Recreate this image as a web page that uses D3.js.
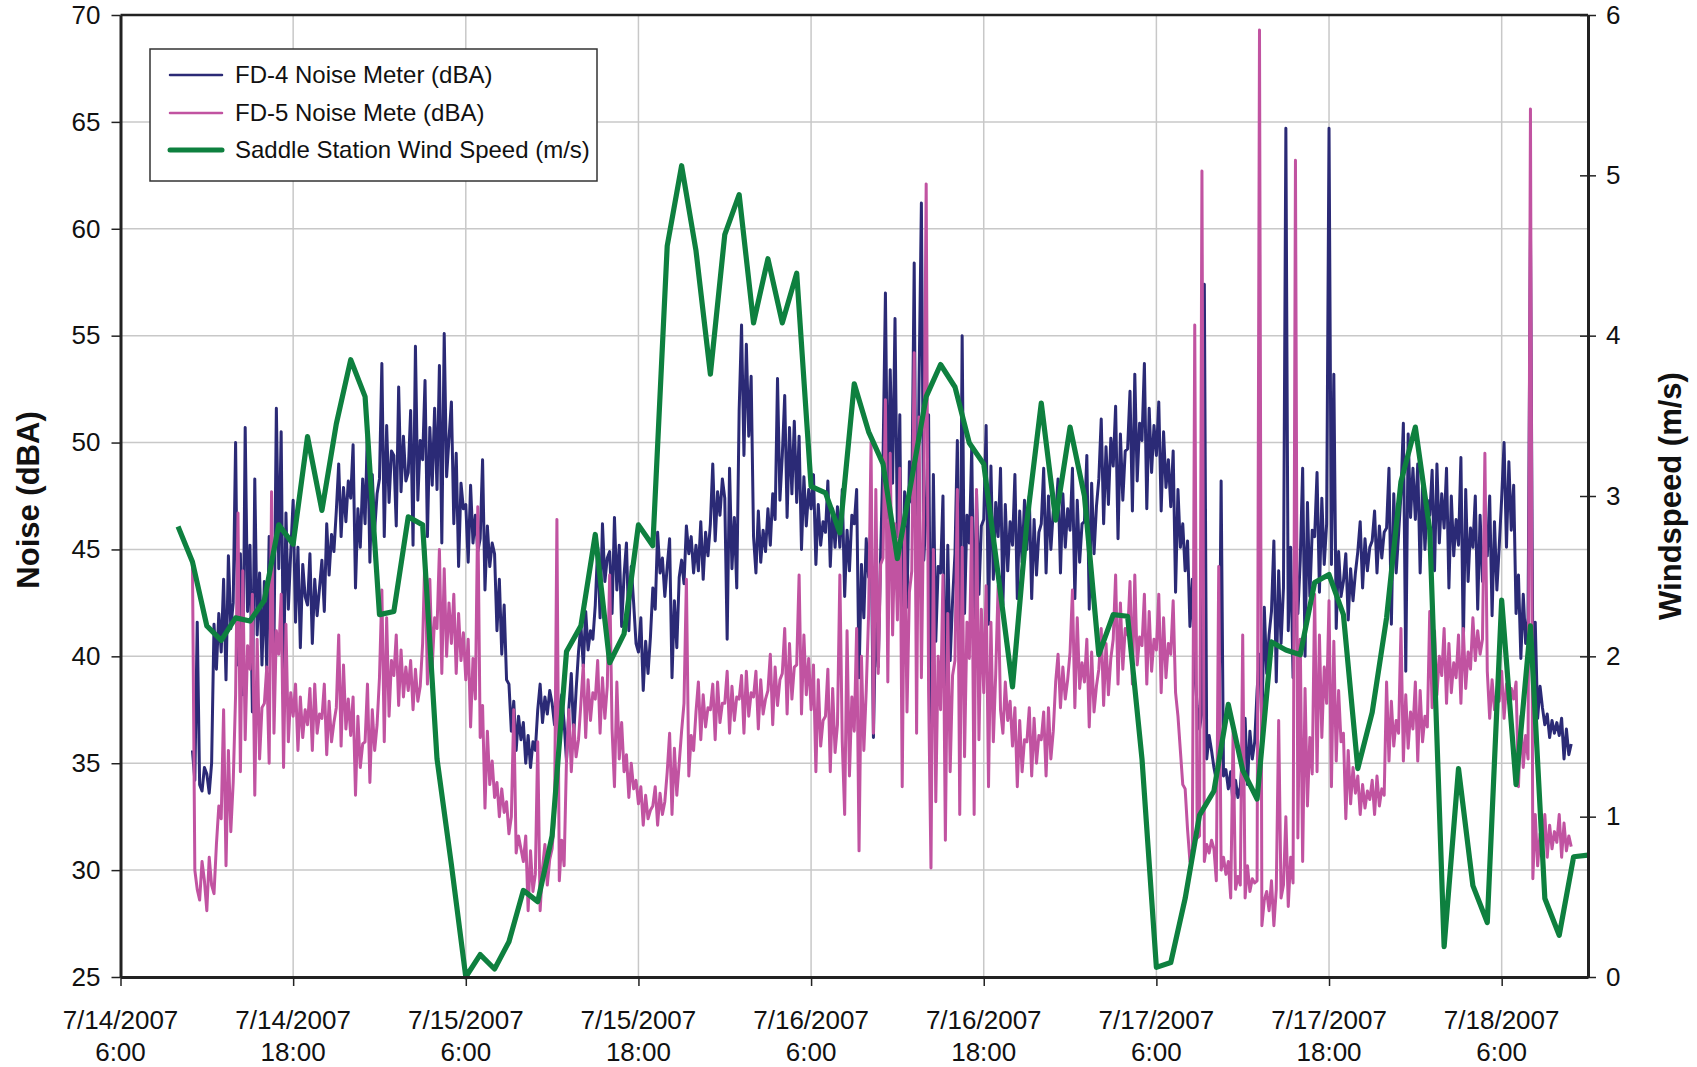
<!DOCTYPE html>
<html>
<head>
<meta charset="utf-8">
<script src="https://cdn.jsdelivr.net/npm/d3@7"></script>
<style>
  html, body { margin: 0; padding: 0; background: #fff; }
  svg { display: block; font-family: "Liberation Sans", Arial, Helvetica, sans-serif; }
</style>
</head>
<body>
<svg id="chart" width="1697" height="1067"></svg>
<script>
// ---- Series -------------------------------------------------------------
const seriesNames = ["FD-4 Noise Meter (dBA)", "FD-5 Noise Mete (dBA)", "Saddle Station Wind Speed (m/s)"];

// Noise meters: 10-minute readings starting 7/14/2007 11:00 (one row per hour)
const noiseStart = [2007, 6, 14, 11, 0];
const noiseStepMinutes = 10;

const fd4Values = [
  // 7/14 11:00 - 23:50
  35.6, 34.2, 41.6, 34.0, 33.7, 34.8,
  34.5, 33.6, 35.0, 41.5, 39.4, 42.0,
  40.2, 43.6, 38.9, 44.7, 41.3, 42.5,
  50.0, 39.6, 44.8, 38.2, 50.7, 42.1,
  45.2, 37.4, 48.3, 41.0, 43.9, 39.6,
  43.5, 39.4, 45.6, 41.8, 40.5, 51.6,
  44.1, 50.5, 38.8, 46.7, 42.2, 44.9,
  47.3, 41.6, 45.1, 40.4, 44.3, 42.8,
  42.4, 44.8, 40.6, 43.6, 41.9, 43.2,
  44.5, 42.1, 46.2, 43.8, 45.7, 44.9,
  46.8, 49.0, 45.6, 47.9, 46.3, 48.2,
  47.4, 49.9, 43.2, 46.9, 45.1, 48.3,
  46.2, 50.7, 44.4, 48.5, 45.9, 47.6,
  // 7/15
  48.3, 53.7, 45.6, 50.8, 47.2, 49.6,
  49.4, 46.1, 52.6, 47.7, 50.3, 48.2,
  48.6, 51.5, 45.2, 54.5, 47.3, 50.1,
  49.2, 52.9, 45.6, 50.7, 48.0, 51.6,
  47.8, 53.6, 45.3, 55.1, 48.4, 50.2,
  51.9, 46.2, 49.5, 44.2, 48.1, 46.9,
  47.1, 44.4, 48.0, 45.3, 46.6, 44.9,
  45.5, 49.2, 43.1, 46.1, 44.2, 45.3,
  44.8, 41.2, 43.6, 40.1, 42.4, 38.9,
  38.7, 36.5, 37.9, 35.6, 37.2, 36.1,
  36.9, 35.0, 36.3, 34.8, 36.0, 35.6,
  37.5, 38.7, 36.9, 38.1, 37.3, 38.4,
  37.8, 36.8, 38.6, 37.1, 38.2, 36.9,
  35.1, 37.6, 39.2, 36.3, 38.4, 40.2,
  41.5, 39.5, 42.1, 40.3, 41.2, 40.8,
  42.4, 45.1, 41.8, 46.2, 43.5, 44.6,
  44.9, 42.0, 46.5, 43.1, 45.2, 41.4,
  43.8, 45.3, 41.2, 44.2, 42.5, 40.6,
  40.2, 41.8, 38.4, 40.7, 39.2, 40.9,
  43.2, 42.2, 45.8, 43.9, 44.6, 42.8,
  44.2, 45.5, 39.0, 42.6, 40.4, 43.7,
  44.5, 43.4, 46.1, 44.8, 45.6, 43.9,
  45.2, 44.0, 46.3, 43.6, 45.8, 44.7,
  46.2, 49.0, 45.4, 47.7, 46.6, 48.3,
  // 7/16
  47.4, 40.8, 48.8, 44.1, 46.5, 43.2,
  51.5, 55.5, 49.4, 54.6, 50.3, 53.1,
  45.6, 43.9, 46.8, 44.4, 45.9, 44.9,
  46.9, 45.2, 47.6, 46.4, 53.0, 47.3,
  49.4, 52.2, 46.5, 50.7, 47.6, 51.0,
  47.2, 50.3, 45.0, 48.4, 46.1, 47.8,
  46.9, 48.5, 44.3, 47.1, 45.2, 46.3,
  45.8, 48.2, 44.2, 46.9, 45.1, 47.0,
  45.1, 47.8, 42.8, 45.9, 44.0, 46.6,
  46.2, 47.8, 39.0, 44.3, 41.8, 45.5,
  43.7, 46.3, 36.2, 42.1, 39.5, 44.8,
  49.2, 57.0, 46.5, 53.4, 48.1, 55.8,
  45.6, 51.3, 39.0, 47.7, 42.3, 49.1,
  47.2, 58.4, 41.5, 52.6, 61.2, 44.5,
  46.8, 51.3, 36.6, 48.5, 40.7, 44.2,
  43.9, 47.5, 36.5, 45.2, 39.8, 42.6,
  44.8, 50.1, 38.9, 55.0, 42.0, 46.6,
  45.3, 49.8, 40.2, 47.6, 42.9, 46.1,
  46.4, 50.8, 41.5, 48.9, 43.6, 47.2,
  45.6, 48.8, 42.4, 47.1, 44.0, 46.3,
  45.2, 48.5, 42.7, 46.8, 44.4, 47.3,
  45.0, 47.5, 42.7, 46.4, 43.8, 45.8,
  46.2, 48.8, 43.9, 47.5, 45.0, 46.8,
  46.5, 48.3, 43.9, 47.6, 45.1, 46.9,
  // 7/17
  45.9, 48.8, 42.7, 47.3, 44.4, 46.2,
  46.3, 49.4, 42.2, 48.1, 44.8, 47.0,
  48.3, 51.1, 46.2, 49.8, 47.1, 50.2,
  48.9, 51.7, 45.5, 50.4, 47.3, 49.6,
  49.7, 52.4, 46.8, 53.2, 48.2, 50.9,
  50.1, 53.7, 46.9, 51.6, 48.6, 50.8,
  49.4, 51.9, 46.8, 50.5, 47.9, 49.2,
  47.0, 49.6, 43.0, 47.8, 45.1, 46.2,
  44.0, 45.4, 41.4, 43.6, 39.2, 37.7,
  36.6, 37.4, 57.4, 35.2, 36.3, 35.6,
  34.8, 34.2, 35.0, 48.2, 34.4, 34.7,
  33.8, 34.6, 33.0, 34.2, 33.4, 33.9,
  35.4, 37.1, 34.0, 36.5, 35.2, 36.0,
  38.4, 40.1, 36.8, 42.3, 39.2, 41.0,
  42.1, 45.4, 38.8, 44.0, 40.6, 43.2,
  64.7, 41.2, 45.1, 39.0, 43.6, 42.0,
  44.5, 48.8, 40.0, 47.2, 42.8, 45.9,
  45.6, 48.6, 43.0, 47.4, 44.3, 46.2,
  64.7, 44.3, 53.2, 41.3, 44.9, 42.8,
  43.5, 44.8, 41.7, 44.1, 42.6, 43.9,
  44.9, 46.3, 43.2, 45.5, 44.0, 45.1,
  45.4, 46.8, 43.9, 46.1, 44.6, 45.8,
  46.0, 48.8, 41.5, 47.6, 43.9, 45.7,
  47.6, 50.9, 39.3, 50.4, 46.5, 48.8,
  // 7/18 00:00 - 10:50
  46.4, 49.0, 43.9, 48.1, 45.0, 47.3,
  46.6, 48.7, 44.0, 49.0, 45.3, 47.6,
  46.0, 48.8, 43.2, 47.5, 44.7, 46.4,
  45.2, 49.3, 40.4, 47.8, 43.5, 46.0,
  45.1, 47.5, 42.2, 46.6, 43.5, 45.6,
  44.7, 47.5, 41.9, 46.3, 43.1, 45.2,
  47.4, 50.0, 45.1, 49.1, 45.9, 48.0,
  42.0, 43.8, 39.9, 42.9, 40.6, 41.8,
  60.0, 39.5, 41.6, 37.1, 38.6, 37.6,
  36.8, 37.3, 36.2, 37.0, 36.4, 36.9,
  36.3, 37.1, 35.2, 36.6, 35.4, 35.9
];

const fd5Values = [
  // 7/14 11:00 - 23:50
  44.5, 30.0, 29.1, 28.6, 30.4, 29.5,
  28.1, 30.6, 29.3, 28.9, 31.2, 33.0,
  32.4, 37.5, 30.2, 35.6, 31.8, 34.1,
  38.2, 46.7, 34.6, 44.0, 36.1, 40.5,
  39.4, 42.9, 33.5, 40.8, 35.2, 37.6,
  37.8, 39.5, 35.0, 47.7, 36.4, 41.2,
  40.1, 42.9, 34.8, 41.5, 36.0, 38.3,
  37.2, 38.7, 35.6, 38.1, 36.2, 37.5,
  36.8, 38.5, 35.6, 38.7, 36.4, 37.3,
  37.1, 38.7, 35.4, 37.9, 36.0, 36.9,
  37.6, 41.0, 35.8, 39.6, 36.6, 38.0,
  36.3, 38.1, 33.5, 37.2, 34.8, 35.9,
  36.0, 38.7, 34.1, 37.5, 35.6, 36.8,
  // 7/15
  39.0, 43.1, 36.0, 41.8, 37.2, 39.8,
  39.1, 41.0, 37.7, 40.3, 38.1, 39.5,
  38.4, 39.8, 37.5, 39.4, 37.9, 38.6,
  40.6, 45.0, 38.7, 43.6, 39.5, 41.8,
  41.3, 45.0, 39.2, 44.1, 40.0, 42.5,
  40.6, 42.9, 39.2, 42.0, 39.8, 41.1,
  38.9, 40.8, 36.7, 39.9, 38.0, 47.0,
  36.2, 37.7, 32.9, 36.5, 34.0, 35.1,
  33.4, 34.1, 32.5, 33.8, 32.7, 33.2,
  31.7, 32.5, 37.5, 30.8, 31.6, 31.0,
  30.4, 31.6, 28.1, 30.9, 29.0, 29.8,
  36.0, 28.1, 30.1, 31.2, 29.3, 30.5,
  31.0, 32.5, 46.4, 29.5, 31.4, 30.2,
  35.2, 37.5, 34.6, 36.8, 35.3, 36.1,
  37.8, 39.6, 36.2, 38.9, 37.0, 38.3,
  38.0, 39.8, 36.4, 39.0, 37.1, 38.6,
  43.8, 36.6, 33.9, 38.8, 35.2, 36.9,
  34.6, 35.4, 33.4, 35.0, 33.8, 34.2,
  33.1, 33.9, 32.1, 33.5, 32.4, 32.8,
  33.0, 33.9, 32.1, 33.6, 32.6, 33.2,
  34.6, 36.4, 32.6, 35.7, 33.5, 35.0,
  36.5, 37.8, 43.6, 34.4, 36.3, 35.6,
  37.4, 38.8, 36.1, 38.2, 36.7, 37.6,
  37.5, 38.7, 36.1, 38.8, 36.9, 37.8,
  // 7/16
  37.8, 39.3, 36.4, 38.6, 37.0, 38.1,
  38.0, 39.1, 36.4, 39.3, 37.2, 38.3,
  38.1, 39.3, 36.6, 38.9, 37.3, 38.0,
  38.4, 40.1, 36.8, 39.5, 37.7, 38.9,
  39.2, 41.3, 37.3, 40.6, 38.0, 39.5,
  39.6, 43.8, 37.3, 41.0, 38.2, 39.9,
  37.5, 39.6, 34.6, 38.9, 35.8, 37.0,
  37.2, 39.4, 34.6, 38.5, 35.5, 36.8,
  43.8, 36.0, 32.6, 41.2, 34.4, 38.1,
  36.5, 41.3, 30.9, 40.0, 35.6, 38.4,
  42.0, 50.0, 36.4, 47.8, 39.2, 44.3,
  44.6, 52.0, 38.8, 49.5, 41.0, 46.2,
  41.7, 48.8, 33.9, 46.0, 37.4, 43.0,
  44.0, 54.2, 36.4, 51.2, 39.0, 47.5,
  62.1, 38.4, 30.1, 45.0, 33.2, 40.0,
  37.5, 43.8, 31.4, 42.0, 34.6, 39.1,
  39.8, 47.8, 32.6, 45.1, 35.3, 41.6,
  39.9, 46.5, 32.6, 47.8, 36.1, 42.2,
  38.3, 43.3, 33.9, 41.6, 36.0, 39.2,
  43.3, 37.5, 36.4, 38.8, 37.0, 37.9,
  35.8, 37.6, 33.9, 37.0, 34.6, 36.1,
  36.0, 37.6, 34.4, 37.1, 35.0, 36.3,
  36.1, 37.4, 34.4, 37.6, 35.2, 36.5,
  38.8, 40.1, 37.6, 39.5, 38.0, 38.9,
  // 7/17
  40.2, 43.1, 37.6, 41.8, 38.5, 39.7,
  38.8, 40.8, 36.7, 40.2, 37.4, 38.6,
  39.4, 41.3, 37.7, 40.6, 38.2, 39.9,
  40.8, 43.8, 38.7, 42.5, 39.4, 41.3,
  41.0, 43.5, 38.7, 43.8, 39.6, 40.9,
  40.5, 42.9, 38.7, 42.1, 39.3, 40.8,
  40.3, 42.9, 38.3, 41.8, 39.0, 40.6,
  40.1, 42.6, 38.3, 37.2, 35.6, 34.0,
  33.8, 31.9, 30.4, 31.0, 55.5, 31.5,
  31.6, 62.7, 30.4, 31.2, 30.8, 31.4,
  31.0, 29.5, 44.2, 30.0, 30.6, 29.8,
  30.4, 28.7, 36.5, 29.1, 29.7, 29.3,
  41.0, 28.7, 30.2, 29.0, 29.6, 29.4,
  29.5, 69.3, 27.4, 28.6, 29.0, 28.1,
  29.5, 27.4, 29.1, 37.0, 28.7, 29.3,
  32.5, 28.3, 30.6, 29.4, 63.2, 31.5,
  40.8, 30.4, 38.5, 33.0, 36.2, 34.5,
  42.9, 34.6, 41.0, 36.2, 39.5, 37.8,
  42.6, 33.9, 40.7, 35.1, 38.4, 36.0,
  36.4, 32.4, 35.6, 33.1, 34.8, 33.6,
  34.4, 32.6, 34.0, 32.9, 33.7, 33.3,
  34.2, 32.6, 34.4, 33.0, 33.8, 33.5,
  38.8, 35.1, 37.9, 35.8, 37.0, 36.4,
  41.3, 35.1, 38.2, 35.7, 37.4, 36.6,
  // 7/18 00:00 - 10:50
  38.8, 35.1, 38.4, 36.0, 37.2, 36.7,
  42.1, 37.6, 41.2, 38.2, 40.0, 39.1,
  41.3, 37.8, 40.6, 38.3, 39.7, 39.0,
  41.0, 37.8, 41.3, 38.5, 40.2, 39.4,
  41.8, 39.8, 41.2, 40.1, 40.8, 49.5,
  39.3, 37.1, 38.9, 37.5, 38.3, 37.9,
  39.3, 37.1, 38.7, 37.8, 38.5, 38.0,
  38.8, 33.9, 37.2, 34.8, 36.3, 35.2,
  65.6, 29.6, 32.6, 30.2, 31.7, 30.8,
  32.6, 30.6, 32.1, 31.0, 31.8, 31.3,
  32.6, 30.6, 32.2, 30.9, 31.6, 31.1
];

// Saddle station: hourly wind speed starting 7/14/2007 10:00
const windStart = [2007, 6, 14, 10, 0];
const windStepMinutes = 60;
const windValues = [
  // 7/14 10:00 - 23:00
  2.81, 2.59, 2.19, 2.10, 2.24, 2.22, 2.35, 2.82, 2.70, 3.37, 2.91, 3.45, 3.85, 3.62,
  // 7/15
  2.26, 2.28, 2.87, 2.82, 1.36, 0.70, 0.00, 0.14, 0.05, 0.22, 0.54, 0.47,
  0.88, 2.03, 2.19, 2.76, 1.96, 2.14, 2.82, 2.69, 4.56, 5.06, 4.53, 3.76,
  // 7/16
  4.63, 4.88, 4.08, 4.48, 4.08, 4.39, 3.06, 3.02, 2.77, 3.70, 3.40, 3.20,
  2.61, 3.11, 3.62, 3.82, 3.68, 3.33, 3.20, 2.51, 1.81, 2.84, 3.58, 2.85,
  // 7/17
  3.43, 3.00, 2.01, 2.26, 2.25, 1.36, 0.06, 0.09, 0.49, 1.01, 1.16, 1.70,
  1.29, 1.11, 2.09, 2.04, 2.01, 2.46, 2.51, 2.26, 1.30, 1.65, 2.24, 3.09,
  // 7/18 00:00 - 12:00
  3.43, 2.79, 0.19, 1.30, 0.57, 0.34, 2.35, 1.20, 2.19, 0.49, 0.26, 0.75, 0.76
];

// ---- Axes ticks -----------------------------------------------------------
const noiseTicks = [25, 30, 35, 40, 45, 50, 55, 60, 65, 70];
const windTicks = [0, 1, 2, 3, 4, 5, 6];
const timeTicks = [
  [2007, 6, 14, 6], [2007, 6, 14, 18], [2007, 6, 15, 6], [2007, 6, 15, 18],
  [2007, 6, 16, 6], [2007, 6, 16, 18], [2007, 6, 17, 6], [2007, 6, 17, 18], [2007, 6, 18, 6]
];
const timeTickLabels = [
  ["7/14/2007", "6:00"], ["7/14/2007", "18:00"], ["7/15/2007", "6:00"], ["7/15/2007", "18:00"],
  ["7/16/2007", "6:00"], ["7/16/2007", "18:00"], ["7/17/2007", "6:00"], ["7/17/2007", "18:00"], ["7/18/2007", "6:00"]
];

// ---- Build point lists ----------------------------------------------------
function toSeries(start, stepMinutes, values) {
  return values.map((v, i) => ({
    t: new Date(start[0], start[1], start[2], start[3], start[4] + i * stepMinutes),
    v: v
  }));
}
const fd4 = toSeries(noiseStart, noiseStepMinutes, fd4Values);
const fd5 = toSeries(noiseStart, noiseStepMinutes, fd5Values);
const wind = toSeries(windStart, windStepMinutes, windValues);
const tickDates = timeTicks.map(d => new Date(d[0], d[1], d[2], d[3]));

// ---- Layout -----------------------------------------------------------------
const plot = { left: 120.5, right: 1588, top: 15, bottom: 977 };
const colors = { fd4: "#2b2a76", fd5: "#c153a1", wind: "#0e803f", grid: "#c8c8c8", axis: "#222" };

const svg = d3.select("#chart");

const x = d3.scaleTime()
  .domain([new Date(2007, 6, 14, 6), new Date(2007, 6, 18, 12)])
  .range([plot.left, plot.right]);
const yNoise = d3.scaleLinear().domain([25, 70]).range([plot.bottom, plot.top]);
const yWind = d3.scaleLinear().domain([0, 6]).range([plot.bottom, plot.top]);

// gridlines
const grid = svg.append("g").attr("stroke", colors.grid).attr("stroke-width", 1.5);
grid.selectAll("line.h").data(noiseTicks.slice(1, -1)).join("line")
  .attr("x1", plot.left).attr("x2", plot.right)
  .attr("y1", d => yNoise(d)).attr("y2", d => yNoise(d));
grid.selectAll("line.v").data(tickDates.slice(1)).join("line")
  .attr("x1", d => x(d)).attr("x2", d => x(d))
  .attr("y1", plot.top).attr("y2", plot.bottom);

// series
const noiseLine = d3.line().x(d => x(d.t)).y(d => yNoise(d.v));
const windLine = d3.line().x(d => x(d.t)).y(d => yWind(d.v));

svg.append("path").datum(fd4).attr("d", noiseLine)
  .attr("fill", "none").attr("stroke", colors.fd4).attr("stroke-width", 3).attr("stroke-linejoin", "round");
svg.append("path").datum(fd5).attr("d", noiseLine)
  .attr("fill", "none").attr("stroke", colors.fd5).attr("stroke-width", 3).attr("stroke-linejoin", "round");
svg.append("path").datum(wind).attr("d", windLine)
  .attr("fill", "none").attr("stroke", colors.wind).attr("stroke-width", 5.2).attr("stroke-linejoin", "round");

// frame: top edge
svg.append("line").attr("x1", plot.left).attr("x2", plot.right)
  .attr("y1", plot.top).attr("y2", plot.top)
  .attr("stroke", colors.axis).attr("stroke-width", 2.5);

// left axis
const gLeft = svg.append("g").attr("transform", `translate(${plot.left},0)`)
  .call(d3.axisLeft(yNoise).tickValues(noiseTicks).tickSize(9).tickSizeOuter(0).tickPadding(11));
// right axis
const gRight = svg.append("g").attr("transform", `translate(${plot.right},0)`)
  .call(d3.axisRight(yWind).tickValues(windTicks).tickFormat(d3.format("d"))
    .tickSize(8).tickSizeOuter(0).tickPadding(10));
gRight.selectAll(".tick line").attr("x1", -8);
// bottom axis
const gBottom = svg.append("g").attr("transform", `translate(0,${plot.bottom})`)
  .call(d3.axisBottom(x).tickValues(tickDates).tickSize(9).tickSizeOuter(0).tickFormat(""));

[gLeft, gRight, gBottom].forEach(g => {
  g.select(".domain").attr("stroke", colors.axis).attr("stroke-width", 3);
  g.selectAll(".tick line").attr("stroke", colors.axis).attr("stroke-width", 1.5);
  g.selectAll(".tick text").attr("font-size", 26).attr("fill", "#111")
    .attr("font-family", '"Liberation Sans", Arial, sans-serif');
});

// two-line date labels
const xl = svg.append("g").attr("font-size", 26).attr("fill", "#111").attr("text-anchor", "middle");
tickDates.forEach((d, i) => {
  const t = xl.append("text").attr("x", x(d));
  t.append("tspan").attr("x", x(d)).attr("y", 1029).text(timeTickLabels[i][0]);
  t.append("tspan").attr("x", x(d)).attr("y", 1061).text(timeTickLabels[i][1]);
});

// axis titles
svg.append("text")
  .attr("transform", "translate(28,500) rotate(-90)")
  .attr("text-anchor", "middle").attr("dy", "0.35em")
  .attr("font-size", 31).attr("font-weight", "bold").attr("fill", "#111")
  .text("Noise (dBA)");
svg.append("text")
  .attr("transform", "translate(1670,496) rotate(-90)")
  .attr("text-anchor", "middle").attr("dy", "0.35em")
  .attr("font-size", 31).attr("font-weight", "bold").attr("fill", "#111")
  .text("Windspeed (m/s)");

// legend
const legend = svg.append("g");
legend.append("rect").attr("x", 150).attr("y", 49).attr("width", 447).attr("height", 132)
  .attr("fill", "#fff").attr("stroke", "#333").attr("stroke-width", 1.5);
const legendItems = [
  { name: seriesNames[0], color: colors.fd4, width: 2.5 },
  { name: seriesNames[1], color: colors.fd5, width: 2.5 },
  { name: seriesNames[2], color: colors.wind, width: 5 }
];
const legendRows = [75, 113, 150];
legendItems.forEach((it, i) => {
  legend.append("line").attr("x1", 170).attr("x2", 222)
    .attr("y1", legendRows[i]).attr("y2", legendRows[i])
    .attr("stroke", it.color).attr("stroke-width", it.width).attr("stroke-linecap", "round");
  legend.append("text").attr("x", 235).attr("y", legendRows[i]).attr("dy", "0.35em")
    .attr("font-size", 24).attr("fill", "#111").text(it.name);
});
</script>
</body>
</html>
